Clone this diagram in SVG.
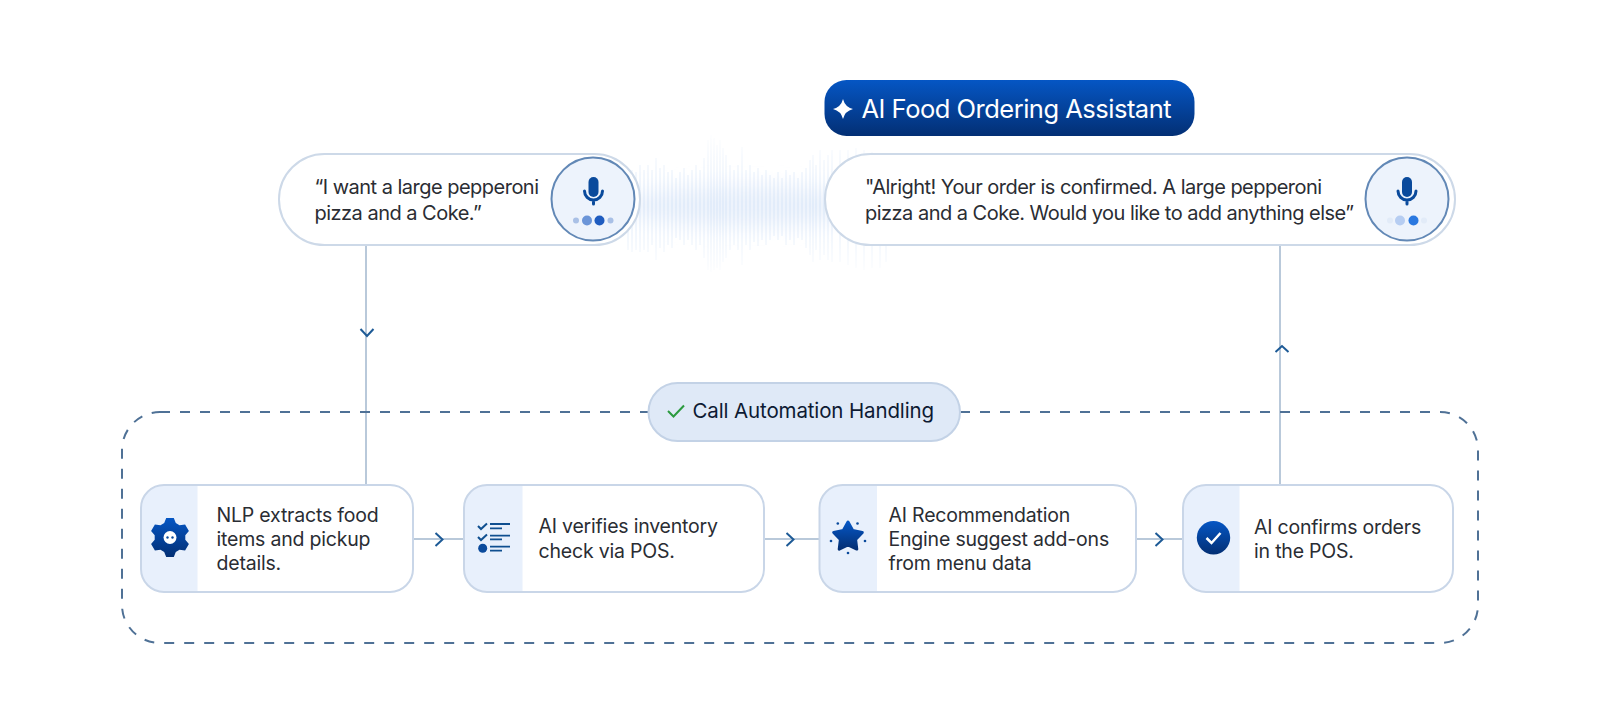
<svg xmlns="http://www.w3.org/2000/svg" width="1600" height="722" viewBox="0 0 1600 722">
<style>
text{font-family:Inter,"Liberation Sans",sans-serif;fill:#2a2d33}
.say{font-size:20px;letter-spacing:-.52px}
.step{font-size:19.5px;letter-spacing:-.2px}
.pill{fill:#fff;stroke:#cdd9e8;stroke-width:2}
.card{fill:#fff}
.edge{fill:none;stroke:#c9d6e8;stroke-width:2}
.band{fill:#e8f0fc}
.mic{fill:#edf3fc;stroke:#6288b6;stroke-width:2}
.wire{fill:none;stroke:#b9c9da;stroke-width:2}
.chev{fill:none;stroke:#1d5a96;stroke-width:2}
.m{fill:none;stroke:#0a4a9c;stroke-width:3;stroke-linecap:round}
</style>
<defs>
<linearGradient id="g" x1="0" y1="0" x2="0" y2="1"><stop offset="0" stop-color="#0556c4"/><stop offset="1" stop-color="#032f74"/></linearGradient>
<linearGradient id="w" x1="0" y1="130" x2="0" y2="280" gradientUnits="userSpaceOnUse"><stop offset="0" stop-color="#d5e4f7" stop-opacity="0"/><stop offset=".5" stop-color="#d6e5f8"/><stop offset="1" stop-color="#d5e4f7" stop-opacity="0"/></linearGradient>
<filter id="soft" x="-20%" y="-100%" width="140%" height="300%"><feGaussianBlur stdDeviation="9"/></filter>
<clipPath id="c1"><rect x="141" y="485" width="272" height="107" rx="23"/></clipPath>
<clipPath id="c2"><rect x="464" y="485" width="300" height="107" rx="23"/></clipPath>
<clipPath id="c3"><rect x="819.500" y="485" width="316.500" height="107" rx="23"/></clipPath>
<clipPath id="c4"><rect x="1183" y="485" width="270" height="107" rx="23"/></clipPath>
</defs>
<rect width="1600" height="722" fill="#fff"/>
<g id="waveform"><ellipse cx="745" cy="206" rx="125" ry="20" fill="#edf3fc" filter="url(#soft)"/><path fill="none" stroke="url(#w)" stroke-width="1" d="M628 175V250M632 170V252M636 172V250M640 165V252M644 170V250M648 165V252M652 170V245M656 158V260M660 168V248M664 165V252M668 172V245M672 170V248M676 178V238M680 172V240M684 168V245M688 175V240M692 170V245M696 165V250M700 170V245M704 158V258M708 140V270M711 135V272M714 138V270M717 145V268M720 140V270M723 148V262M726 155V258M730 165V250M734 170V245M738 165V250M742 147V265M746 170V245M750 165V250M754 172V242M758 168V246M762 175V240M766 170V245M770 175V240M774 178V236M778 172V240M782 178V236M786 170V245M790 175V240M794 172V245M798 178V238M802 172V240M806 168V248M810 160V255M813 155V262M816 165V250M820 150V260M824 160V255M828 155V260M832 150V262M840 150V262M848 150V265M856 148V268M864 150V270M872 152V268M880 155V268M886 165V262"/></g>
<g id="connectors">
<path class="wire" d="M366 245V485M1280 245V485M413 539H464M764 539H819.500M1136 539H1183"/>
<path class="chev" d="M360.500 329L367 336L373.500 329M1275.500 352L1282 346L1288.500 352M435.500 533L442.500 539.500L435.500 546M786.500 533L793.500 539.500L786.500 546M1155.500 533L1162.500 539.500L1155.500 546"/>
</g>
<g id="automation-frame"><rect x="122" y="412" width="1356" height="231" rx="38" fill="none" stroke="#4f7196" stroke-width="2" stroke-dasharray="10 10"/></g>
<g id="call-automation"><rect x="648.500" y="383" width="311.500" height="58" rx="29" fill="#dfe9f7" stroke="#c3d2e6" stroke-width="2"/><path d="M668 411L673.500 416.500L684 405.500" fill="none" stroke="#2b9a3f" stroke-width="2"/><text x="692.500" y="418" style="font-size:20.500px;fill:#0d1a33;letter-spacing:-.13px">Call Automation Handling</text></g>
<g id="ai-title"><rect x="824.500" y="80" width="370" height="56" rx="22" fill="url(#g)"/><path d="M843 99Q845 107 853 109Q845 111 843 119Q841 111 833 109Q841 107 843 99Z" fill="#fff"/><text x="861.500" y="118" style="font-size:25.500px;fill:#fff;letter-spacing:-.5px">AI Food Ordering Assistant</text></g>
<g id="user-speech"><rect x="279" y="154" width="361" height="91" rx="45.500" class="pill"/><text class="say" x="314.500" y="193.500">“I want a large pepperoni</text><text class="say" x="314.500" y="220">pizza and a Coke.”</text>
<circle cx="593" cy="199" r="41.500" class="mic"/><rect x="588.500" y="177" width="10" height="20" rx="5" fill="#0a4a9c"/><path class="m" d="M584.500 191A9 9 0 0 0 602.500 191M593.500 200V204"/>
<circle cx="576" cy="220.500" r="3" fill="#a9c0e6"/><circle cx="587" cy="220.500" r="5" fill="#6b95d8"/><circle cx="599.500" cy="220.500" r="5" fill="#1f5cc0"/><circle cx="610.500" cy="220.500" r="3" fill="#a9c0e6"/></g>
<g id="assistant-speech"><rect x="825" y="154" width="630" height="91" rx="45.500" class="pill"/><text class="say" x="865" y="193.500">"Alright! Your order is confirmed. A large pepperoni</text><text class="say" x="865" y="220">pizza and a Coke. Would you like to add anything else”</text>
<circle cx="1407" cy="199" r="41.500" class="mic"/><rect x="1402" y="177" width="10" height="20" rx="5" fill="#0a4a9c"/><path class="m" d="M1398 191A9 9 0 0 0 1416 191M1407 200V204"/>
<circle cx="1390" cy="220.500" r="3" fill="#e2ebf8"/><circle cx="1400" cy="220.500" r="5" fill="#b6cdf2"/><circle cx="1413.500" cy="220.500" r="5" fill="#2a78e0"/><circle cx="1424" cy="220.500" r="3" fill="#e2ebf8"/></g>
<g id="nlp"><rect x="141" y="485" width="272" height="107" rx="23" class="card"/><rect x="141" y="485" width="56.500" height="107" class="band" clip-path="url(#c1)"/><rect x="141" y="485" width="272" height="107" rx="23" class="edge"/>
<path fill="url(#g)" d="M166.200 517.900L173.800 517.900L175.800 523.100L179.500 525.300L185.100 524.400L188.900 531L185.300 535.300L185.300 539.700L188.900 544L185.100 550.600L179.500 549.700L175.800 551.900L173.800 557.100L166.200 557.100L164.200 551.900L160.500 549.700L154.900 550.600L151.100 544L154.700 539.700L154.700 535.300L151.100 531L154.900 524.400L160.500 525.300L164.200 523.100Z"/><circle cx="170" cy="537.500" r="6.500" fill="#fff"/><circle cx="167.500" cy="537.500" r="1.200" fill="#0a4a9c"/><circle cx="172.500" cy="537.500" r="1.200" fill="#0a4a9c"/>
<text class="step" x="216.500" y="522">NLP extracts food</text><text class="step" x="216.500" y="546">items and pickup</text><text class="step" x="216.500" y="570">details.</text></g>
<g id="inventory"><rect x="464" y="485" width="300" height="107" rx="23" class="card"/><rect x="464" y="485" width="58.500" height="107" class="band" clip-path="url(#c2)"/><rect x="464" y="485" width="300" height="107" rx="23" class="edge"/>
<path d="M478 526L481 529L487 523.500M478 537L481 540L487 534.500" fill="none" stroke="#0f4f90" stroke-width="2"/><path d="M490 524H510M490 528.300H502M490 535.700H510M490 539.300H502M490 546.700H510M490 550.700H502" fill="none" stroke="#0f4f90" stroke-width="1.800"/><circle cx="482.700" cy="548.300" r="4.500" fill="#0a4a9c"/>
<text class="step" x="538.500" y="533">AI verifies inventory</text><text class="step" x="538.500" y="557.500">check via POS.</text></g>
<g id="recommendation"><rect x="819.500" y="485" width="316.500" height="107" rx="23" class="card"/><rect x="819.500" y="485" width="57.500" height="107" class="band" clip-path="url(#c3)"/><rect x="819.500" y="485" width="316.500" height="107" rx="23" class="edge"/>
<path fill="url(#g)" stroke="url(#g)" stroke-width="3" stroke-linejoin="round" d="M848 522L852.700 530.500L862.300 532.400L855.600 539.500L856.800 549.100L848 545L839.200 549.100L840.400 539.500L833.700 532.400L843.300 530.500Z"/>
<g fill="#0a4a9c"><circle cx="837.800" cy="523.500" r="1.300"/><circle cx="857.500" cy="523.500" r="1.300"/><circle cx="831" cy="541" r="1.300"/><circle cx="865" cy="541" r="1.300"/><circle cx="848" cy="553" r="1.300"/></g>
<text class="step" x="888.500" y="522">AI Recommendation</text><text class="step" x="888.500" y="546">Engine suggest add-ons</text><text class="step" x="888.500" y="570">from menu data</text></g>
<g id="confirm"><rect x="1183" y="485" width="270" height="107" rx="23" class="card"/><rect x="1183" y="485" width="56.500" height="107" class="band" clip-path="url(#c4)"/><rect x="1183" y="485" width="270" height="107" rx="23" class="edge"/>
<circle cx="1213.500" cy="537.700" r="16.700" fill="url(#g)"/><path d="M1206.500 538L1211.500 543L1220.500 533" fill="none" stroke="#fff" stroke-width="2.500"/>
<text class="step" x="1254" y="533.500">AI confirms orders</text><text class="step" x="1254" y="557.500">in the POS.</text></g>
</svg>
